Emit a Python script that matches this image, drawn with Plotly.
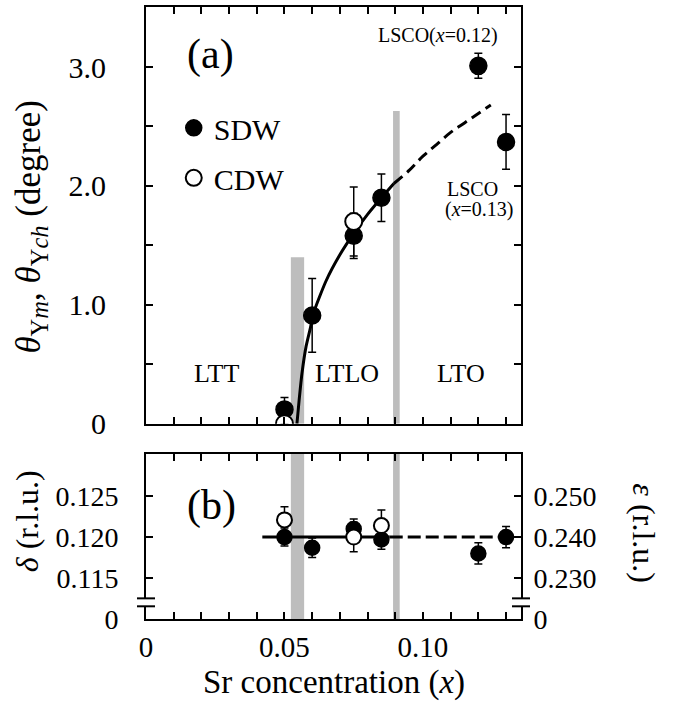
import plotly.graph_objects as go

# ---------------- data ----------------
# panel (a): rotation angle theta vs Sr concentration
x_sdw = [0.05, 0.06, 0.075, 0.085, 0.12, 0.13]
theta_sdw = [0.12, 0.91, 1.58, 1.90, 3.01, 2.37]
theta_sdw_err = [0.10, 0.31, 0.19, 0.20, 0.105, 0.23]

x_cdw = [0.05, 0.075]
theta_cdw = [0.0, 1.70]
theta_cdw_err = [0.0, 0.29]

# guide curve
curve_x_solid = [0.0545, 0.0553, 0.0563, 0.0578, 0.0593, 0.0605, 0.065, 0.07, 0.075, 0.08, 0.085, 0.0895]
curve_y_solid = [0.0, 0.20, 0.42, 0.65, 0.80, 0.93, 1.20, 1.42, 1.60, 1.76, 1.90, 2.02]
curve_x_dash = [0.0895, 0.095, 0.10, 0.105, 0.11, 0.115, 0.12, 0.1245]
curve_y_dash = [2.02, 2.13, 2.25, 2.35, 2.45, 2.53, 2.61, 2.68]

# panel (b): incommensurability delta vs Sr concentration
delta_sdw = [0.1200, 0.1187, 0.1210, 0.1197, 0.1180, 0.1200]
delta_sdw_err = [0.0011, 0.0012, 0.0012, 0.0012, 0.0013, 0.0013]
x_cdw_b = [0.05, 0.075, 0.085]
delta_cdw = [0.1221, 0.1200, 0.1214]
delta_cdw_err = [0.0016, 0.0018, 0.0019]

line_b_solid_x = [0.042, 0.088]
line_b_dash_x = [0.088, 0.130]
line_b_level = 0.120

# structural phase boundaries (grey bands)
boundary_lo = [0.0523, 0.0892]
boundary_hi = [0.0571, 0.0916]
boundary_top_a = [1.40, 2.63]

# ticks
x_tickvals = [0.0, 0.01, 0.02, 0.03, 0.04, 0.05, 0.06, 0.07, 0.08, 0.09, 0.10, 0.11, 0.12, 0.13]
x_ticktext = ["0", "", "", "", "", "0.05", "", "", "", "", "0.10", "", "", ""]
ya_tickvals = [0.0, 0.5, 1.0, 1.5, 2.0, 2.5, 3.0]
ya_ticktext = ["0", "", "1.0", "", "2.0", "", "3.0"]
yb_tickvals = [0.110, 0.115, 0.120, 0.125]
yb_ticktext = ["0", "0.115", "0.120", "0.125"]
yr_tickvals = [0.220, 0.230, 0.240, 0.250]
yr_ticktext = ["0", "0.230", "0.240", "0.250"]

X_RANGE = [0.0, 0.1354]
YA_RANGE = [0.0, 3.505]
YB_RANGE = [0.110, 0.1302]
YR_RANGE = [0.220, 0.2604]
BREAK_Y = [0.11155, 0.11252]

FONT = "Liberation Serif, Times New Roman, serif"
GREY = "#bdbdbd"

fig = go.Figure()

# ---- panel (a) ----
fig.add_trace(go.Scatter(x=curve_x_solid, y=curve_y_solid, mode="lines",
                         line=dict(color="black", width=3, shape="spline", smoothing=0.6),
                         xaxis="x2", yaxis="y2", showlegend=False, hoverinfo="skip"))
fig.add_trace(go.Scatter(x=curve_x_dash, y=curve_y_dash, mode="lines",
                         line=dict(color="black", width=3, dash="11px,6px", shape="spline"),
                         xaxis="x2", yaxis="y2", showlegend=False, hoverinfo="skip"))
fig.add_trace(go.Scatter(x=x_sdw, y=theta_sdw, mode="markers", name="SDW",
                         error_y=dict(type="data", array=theta_sdw_err, color="black", thickness=1.5, width=4),
                         marker=dict(symbol="circle", size=17, color="black", line=dict(color="black", width=1.5)),
                         xaxis="x2", yaxis="y2", legendgroup="a"))
fig.add_trace(go.Scatter(x=x_cdw, y=theta_cdw, mode="markers", name="CDW",
                         error_y=dict(type="data", array=theta_cdw_err, color="black", thickness=1.5, width=4),
                         marker=dict(symbol="circle", size=17, color="white", line=dict(color="black", width=2)),
                         xaxis="x2", yaxis="y2", legendgroup="b"))

# ---- panel (b) ----
fig.add_trace(go.Scatter(x=line_b_solid_x, y=[line_b_level] * len(line_b_solid_x), mode="lines",
                         line=dict(color="black", width=3), showlegend=False, hoverinfo="skip"))
fig.add_trace(go.Scatter(x=line_b_dash_x, y=[line_b_level] * len(line_b_dash_x), mode="lines",
                         line=dict(color="black", width=3, dash="13px,5px"), showlegend=False, hoverinfo="skip"))
fig.add_trace(go.Scatter(x=x_sdw, y=delta_sdw, mode="markers", showlegend=False,
                         error_y=dict(type="data", array=delta_sdw_err, color="black", thickness=1.5, width=4),
                         marker=dict(symbol="circle", size=15, color="black", line=dict(color="black", width=1.5))))
fig.add_trace(go.Scatter(x=x_cdw_b, y=delta_cdw, mode="markers", showlegend=False,
                         error_y=dict(type="data", array=delta_cdw_err, color="black", thickness=1.5, width=4),
                         marker=dict(symbol="circle", size=15, color="white", line=dict(color="black", width=2))))
# invisible trace so that the right-hand epsilon axis is active
fig.add_trace(go.Scatter(x=[X_RANGE[0]], y=[YR_RANGE[0]], mode="markers", yaxis="y3",
                         marker=dict(opacity=0), showlegend=False, hoverinfo="skip"))

shapes = []
for lo, hi, top in zip(boundary_lo, boundary_hi, boundary_top_a):
    shapes.append(dict(type="rect", xref="x2", yref="y2", x0=lo, x1=hi, y0=0, y1=top,
                       fillcolor=GREY, line=dict(width=0), layer="below"))
    shapes.append(dict(type="rect", xref="x", yref="y domain", x0=lo, x1=hi, y0=0, y1=1,
                       fillcolor=GREY, line=dict(width=0), layer="below"))
# axis-break marks on the panel (b) vertical axes
for xc in (0.0, 1.0):
    shapes.append(dict(type="rect", xref="x domain", yref="y", x0=xc - 0.012, x1=xc + 0.012,
                       y0=BREAK_Y[0], y1=BREAK_Y[1], fillcolor="white", line=dict(width=0), layer="above"))
    for yb in BREAK_Y:
        shapes.append(dict(type="line", xref="x domain", yref="y", x0=xc - 0.024, x1=xc + 0.024,
                           y0=yb, y1=yb, line=dict(color="black", width=2), layer="above"))

ann = []
def add_text(text, x, y, size, xref="x2", yref="y2", **kw):
    ann.append(dict(text=text, x=x, y=y, xref=xref, yref=yref, showarrow=False,
                    xanchor="center", yanchor="middle",
                    font=dict(family=FONT, size=size, color="black"), **kw))

add_text("(a)", 0.0232, 3.105, 42)
add_text("LSCO(<i>x</i>=0.12)", 0.1055, 3.265, 20)
add_text("LSCO", 0.1178, 1.975, 20)
add_text("(<i>x</i>=0.13)", 0.1203, 1.80, 20)
add_text("LTT", 0.0254, 0.42, 26)
add_text("LTLO", 0.0727, 0.42, 26)
add_text("LTO", 0.1138, 0.42, 26)
add_text("(b)", 0.0236, 0.1239, 42, xref="x", yref="y")
add_text("<i>θ</i><sub>Y<i>m</i></sub>, <i>θ</i><sub>Y<i>ch</i></sub> (degree)", -0.307, 0.641, 35,
         xref="paper", yref="paper", textangle=-90)
add_text("<i>δ</i> (r.l.u.)", -0.317, 0.160, 32, xref="paper", yref="paper", textangle=-90)
add_text("<i>ε</i> (r.l.u.)", 1.328, 0.140, 32, xref="paper", yref="paper", textangle=90)
add_text("Sr concentration (<i>x</i>)", 0.5, -0.104, 33, xref="paper", yref="paper")

axis_common = dict(showline=True, linecolor="black", linewidth=2, ticks="inside", ticklen=7,
                   tickwidth=1.5, tickcolor="black", showgrid=False, zeroline=False,
                   tickfont=dict(family=FONT, size=28, color="black"))

fig.update_layout(
    width=677, height=709, autosize=False,
    margin=dict(l=146, r=156, t=5, b=90),
    plot_bgcolor="white", paper_bgcolor="white",
    font=dict(family=FONT, color="black"),
    showlegend=True,
    legend=dict(x=0.074, y=0.845, xanchor="left", yanchor="top",
                font=dict(family=FONT, size=30, color="black"),
                bgcolor="rgba(0,0,0,0)", tracegroupgap=8, traceorder="grouped"),
    xaxis=dict(**axis_common, range=X_RANGE, anchor="y", mirror="ticks",
               tickmode="array", tickvals=x_tickvals, ticktext=x_ticktext, ticklabelstandoff=1),
    yaxis=dict(**axis_common, range=YB_RANGE, domain=[0, 0.2704], anchor="x", mirror=True,
               tickmode="array", tickvals=yb_tickvals, ticktext=yb_ticktext, ticklabelstandoff=20),
    yaxis3=dict(**axis_common, range=YR_RANGE, overlaying="y", side="right", anchor="x",
                tickmode="array", tickvals=yr_tickvals, ticktext=yr_ticktext, ticklabelstandoff=5),
    xaxis2=dict(**axis_common, range=X_RANGE, anchor="y2", mirror="ticks", matches="x",
                tickmode="array", tickvals=x_tickvals, showticklabels=False),
    yaxis2=dict(**axis_common, range=YA_RANGE, domain=[0.3192, 1], anchor="x2", mirror="ticks",
                tickmode="array", tickvals=ya_tickvals, ticktext=ya_ticktext, ticklabelstandoff=32),
    shapes=shapes,
    annotations=ann,
)
fig.update_xaxes(tickfont=dict(size=29), selector=dict(anchor="y"))
fig.update_yaxes(tickfont=dict(size=30), selector=dict(anchor="x2"))

fig.write_html("out.html", config={"displayModeBar": False},
               post_script="document.body.style.margin='0';document.body.style.overflow='hidden';")
